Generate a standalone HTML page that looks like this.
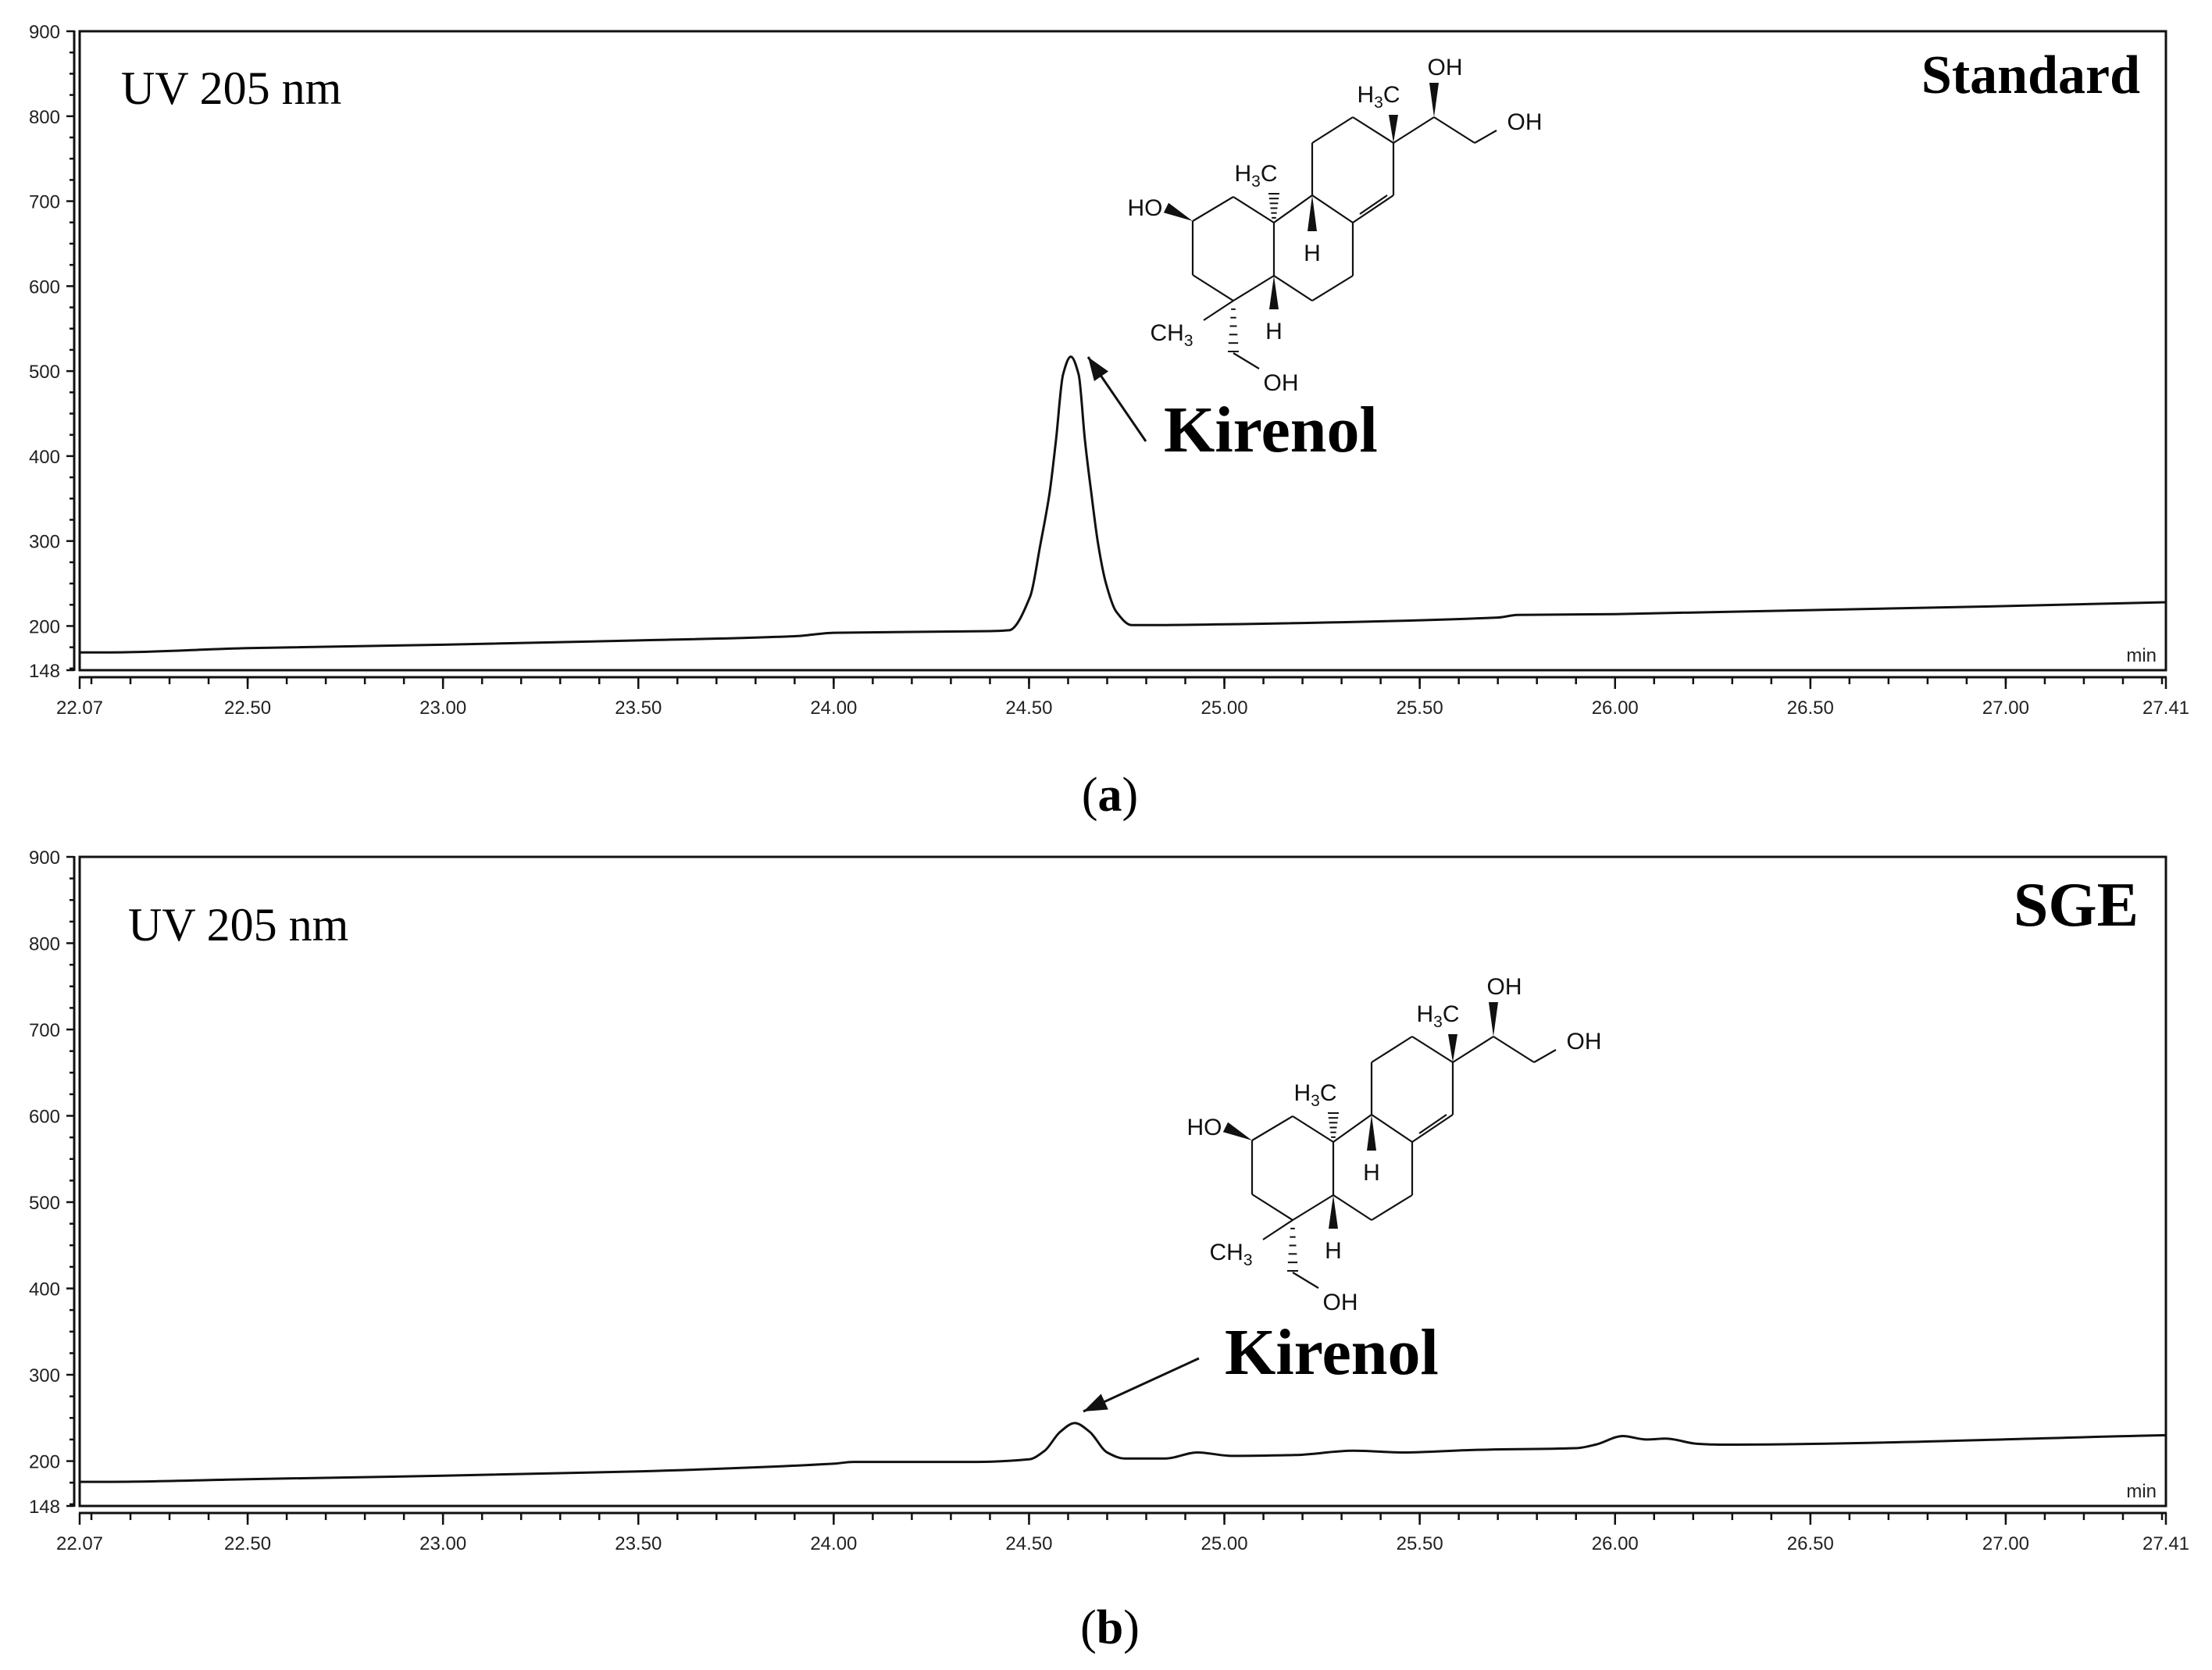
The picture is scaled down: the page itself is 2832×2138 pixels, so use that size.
<!DOCTYPE html>
<html><head><meta charset="utf-8"><style>
html,body{margin:0;padding:0;background:#fff;}
svg{display:block;}
.tk{font-family:"Liberation Sans",sans-serif;font-size:24px;fill:#222;}
.ser{font-family:"Liberation Serif",serif;fill:#000;}
.chem{font-family:"Liberation Sans",sans-serif;font-size:30px;fill:#111;}
</style></head><body>
<svg id="fig" xmlns="http://www.w3.org/2000/svg" width="2832" height="2138" viewBox="0 0 2832 2138">
<rect width="2832" height="2138" fill="#fff"/>
<g id="pa"></g>
<g id="pb"></g>
</svg>
<script>
// ---- data ----
const xMin = 22.07, xMax = 27.41, yMin = 148, yMax = 900;
const xTickLabels = ["22.07","22.50","23.00","23.50","24.00","24.50","25.00","25.50","26.00","26.50","27.00","27.41"];
const yTickLabels = ["900","800","700","600","500","400","300","200","148"];
const timesA = [22.07,22.15,22.5,23.0,23.5,23.9,24.0,24.4,24.449,24.503,24.529,24.553,24.569,24.587,24.607,24.627,24.643,24.659,24.677,24.697,24.723,24.763,24.8,25.0,25.7,25.75,26.0,27.41];
const signalA = [169,169,174,178,183,188,192,194,195,235,296,358,419,496,517,496,419,358,296,250,217,201,201,202,210,213,214,228];
const timesB = [22.07,22.15,22.5,23.0,23.5,24.0,24.05,24.363,24.5,24.54,24.58,24.617,24.655,24.70,24.745,24.85,24.93,25.02,25.18,25.33,25.46,25.64,25.90,25.95,26.02,26.08,26.13,26.21,26.27,27.41];
const signalB = [176,176,179,183,188,197,199,199,202,212,234,244,234,210,203,203,210,206,207,212,210,213,215,219,229,225,226,220,219,230];

const NS = "http://www.w3.org/2000/svg";
function mk(parent, tag, attrs, text){
  const e = document.createElementNS(NS, tag);
  for (const k in attrs) e.setAttribute(k, attrs[k]);
  if (text !== undefined) e.textContent = text;
  parent.appendChild(e);
  return e;
}

// cubic Hermite in x (no backtracking)
function smoothPath(P) {
  const n = P.length, m = [];
  for (let i = 0; i < n; i++) {
    if (i === 0) m.push((P[1][1]-P[0][1])/(P[1][0]-P[0][0]));
    else if (i === n-1) m.push((P[n-1][1]-P[n-2][1])/(P[n-1][0]-P[n-2][0]));
    else {
      const s0 = (P[i][1]-P[i-1][1])/(P[i][0]-P[i-1][0]);
      const s1 = (P[i+1][1]-P[i][1])/(P[i+1][0]-P[i][0]);
      m.push(s0*s1 <= 0 ? 0 : 2/(1/s0 + 1/s1));
    }
  }
  let d = "M" + P[0][0].toFixed(1) + "," + P[0][1].toFixed(1);
  for (let i = 0; i < n-1; i++) {
    const h = (P[i+1][0]-P[i][0])/3;
    d += ` C${(P[i][0]+h).toFixed(1)},${(P[i][1]+m[i]*h).toFixed(1)} ${(P[i+1][0]-h).toFixed(1)},${(P[i+1][1]-m[i+1]*h).toFixed(1)} ${P[i+1][0].toFixed(1)},${P[i+1][1].toFixed(1)}`;
  }
  return d;
}

function drawPanel(g, top, bottom, times, signal, uvBase, titleText, titleX, titleBase, titleSize, kX, kBase, arrow, structDy, structDx, letter, letterBase) {
  const L = 102, R = 2773;
  const sx = t => L + (t - xMin) / (xMax - xMin) * (R - L);
  const sy = v => bottom - (v - yMin) / (yMax - yMin) * (bottom - top);

  const box = mk(g, "rect", {x:L, y:top, width:R-L, height:bottom-top, fill:"none", stroke:"#111", "stroke-width":3});
  
  

  const yax = mk(g, "g", {});
  
  
  mk(yax, "line", {x1:95, y1:top-1, x2:95, y2:bottom+1, stroke:"#111", "stroke-width":3});
  for (let v = 900; v >= 150; v -= 25) {
    const major = v % 100 === 0;
    mk(yax, "line", {x1: major ? 85 : 89, y1: sy(v), x2: 95, y2: sy(v), stroke:"#111", "stroke-width":2.5});
  }
  mk(yax, "line", {x1:85, y1:sy(148), x2:95, y2:sy(148), stroke:"#111", "stroke-width":2.5});
  yTickLabels.forEach(s => {
    const t = mk(yax, "text", {x:77, y:sy(parseFloat(s)) + 9, "text-anchor":"end", class:"tk"}, s);
    
    
  });

  const ax = bottom + 9;
  const xax = mk(g, "g", {});
  
  
  mk(xax, "line", {x1:L-1, y1:ax, x2:R+1, y2:ax, stroke:"#111", "stroke-width":3});
  for (let k = 221; k <= 274; k++) {
    const t = k / 10;
    mk(xax, "line", {x1:sx(t), y1:ax, x2:sx(t), y2:ax + 9, stroke:"#111", "stroke-width":2.5});
  }
  xTickLabels.forEach(s => {
    const t = parseFloat(s);
    mk(xax, "line", {x1:sx(t), y1:ax, x2:sx(t), y2:ax + 15, stroke:"#111", "stroke-width":2.5});
    const tx = mk(xax, "text", {x:sx(t), y:ax + 47, "text-anchor":"middle", class:"tk"}, s);
    
    
  });
  const mn = mk(g, "text", {x:2761, y:bottom - 11, "text-anchor":"end", class:"tk", "font-size":"22"}, "min");
  
  

  const P = times.map((t, i) => [sx(t), sy(signal[i])]);
  const line = mk(g, "path", {d: smoothPath(P), fill:"none", stroke:"#111", "stroke-width":3, "stroke-linejoin":"round"});
  
  

  const uv = mk(g, "text", {x:155 + (uvBase.dx||0), y:uvBase.y, class:"ser", "font-size":"60"}, "UV 205 nm");
  
  
  const ti = mk(g, "text", {x:titleX, y:titleBase, class:"ser", "font-size":titleSize, "font-weight":"bold", "text-anchor":"end"}, titleText);
  
  
  const kl = mk(g, "text", {x:kX, y:kBase, class:"ser", "font-size":"84", "font-weight":"bold"}, "Kirenol");
  
  
  const ar = mk(g, "g", {});
  
  
  const [x1,y1,x2,y2] = arrow;
  mk(ar, "line", {x1:x1, y1:y1, x2:x2, y2:y2, stroke:"#111", "stroke-width":3});
  const ang = Math.atan2(y2 - y1, x2 - x1), hl = 30, hw = 11;
  const bx = x2 - hl*Math.cos(ang), by = y2 - hl*Math.sin(ang);
  mk(ar, "polygon", {points: `${x2},${y2} ${bx - hw*Math.sin(ang)},${by + hw*Math.cos(ang)} ${bx + hw*Math.sin(ang)},${by - hw*Math.cos(ang)}`, fill:"#111"});

  const lt = mk(g, "text", {x:1421, y:letterBase, class:"ser", "font-size":"62", "text-anchor":"middle"});
  
  
  mk(lt, "tspan", {}, "(");
  mk(lt, "tspan", {"font-weight":"bold"}, letter);
  mk(lt, "tspan", {}, ")");

  drawStructure(g, structDx, structDy);
}

function drawStructure(g, dx, dy) {
  const s = mk(g, "g", {transform:`translate(${dx},${dy})`, stroke:"#111", "stroke-width":2.2, fill:"none"});
  
  
  const bonds = [
    [1527,283,1579,252],[1579,252,1631,285],[1631,285,1631,353],[1631,353,1579,385],[1579,385,1527,352],[1527,352,1527,283],
    [1631,285,1680,250],[1680,250,1732,285],[1732,285,1732,353],[1732,353,1680,385],[1680,385,1631,353],
    [1680,250,1680,183],[1680,183,1732,150],[1732,150,1784,183],[1784,183,1784,250],[1784,250,1732,285],
    [1741,274,1776,250],
    [1784,183,1836,150],[1836,150,1888,183],[1888,183,1916,167],
    [1579,385,1541,410],[1579,452,1612,472]
  ];
  bonds.forEach(b => mk(s, "line", {x1:b[0], y1:b[1], x2:b[2], y2:b[3]}));
  const wedge = (x1,y1,x2,y2,w) => {
    const a = Math.atan2(y2-y1, x2-x1);
    mk(s, "polygon", {points:`${x1},${y1} ${x2 - w*Math.sin(a)},${y2 + w*Math.cos(a)} ${x2 + w*Math.sin(a)},${y2 - w*Math.cos(a)}`, fill:"#111", stroke:"none"});
  };
  const hash = (x1,y1,x2,y2) => {
    for (let i = 1; i <= 6; i++) {
      const f = i/6, x = x1 + (x2-x1)*f, y = y1 + (y2-y1)*f, w = 2 + 5*f;
      mk(s, "line", {x1:x-w, y1:y, x2:x+w, y2:y, "stroke-width":2});
    }
  };
  wedge(1527,283,1493,266,7);
  wedge(1784,183,1784,147,6);
  wedge(1836,150,1836,106,6);
  wedge(1680,250,1680,296,6);
  wedge(1631,353,1631,396,6);
  hash(1631,285,1631,248);
  hash(1579,385,1579,450);
  const lab = (x,y,main,sub,rest) => {
    const t = mk(s, "text", {x:x, y:y, class:"chem", stroke:"none", "text-anchor":"middle"});
    mk(t, "tspan", {}, main);
    if (sub) { mk(t, "tspan", {"font-size":"21", dy:"7"}, sub); mk(t, "tspan", {dy:"-7"}, rest); }
  };
  lab(1466,276,"HO");
  lab(1608,232,"H","3","C");
  lab(1680,334,"H");
  lab(1631,434,"H");
  lab(1500,436,"CH","3","");
  lab(1640,500,"OH");
  lab(1765,131,"H","3","C");
  lab(1850,96,"OH");
  lab(1952,166,"OH");
}

drawPanel(document.getElementById("pa"), 40, 858, timesA, signalA, {y:133},
  "Standard", 2740, 119, "70", 1490, 578, [1467,565,1393,457], 0, 0, "a", 1038);
drawPanel(document.getElementById("pb"), 1097, 1928, timesB, signalB, {y:1204, dx:9},
  "SGE", 2738, 1185, "80", 1568, 1759, [1535,1739,1387,1807], 1177, 76, "b", 2104);
</script>
</body></html>
